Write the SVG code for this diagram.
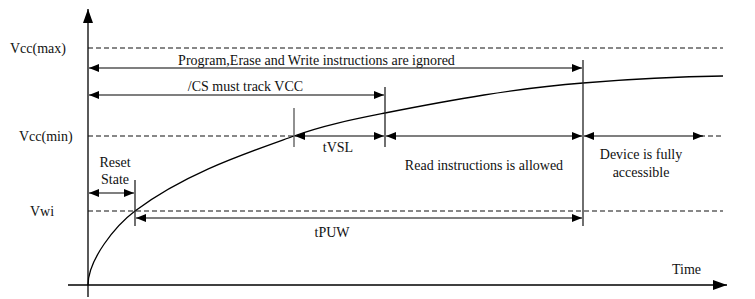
<svg xmlns="http://www.w3.org/2000/svg" width="755" height="299" viewBox="0 0 755 299">
<style>
text{font-family:'Liberation Serif','DejaVu Serif',serif;font-size:14px;fill:#111}
.ax{stroke:#000;stroke-width:1.3;fill:none}
.dash{stroke:#111;stroke-width:1.2;stroke-dasharray:5,3;fill:none}
.arr{stroke:#000;stroke-width:1.2;fill:none;marker-start:url(#ah);marker-end:url(#ah)}
.vl{stroke:#222;stroke-width:1.3;fill:none}
.vg{stroke:#555;stroke-width:1.3;fill:none}
</style>
<defs>
<marker id="ah" viewBox="0 0 10 8" refX="10" refY="4" markerWidth="10" markerHeight="8" markerUnits="userSpaceOnUse" orient="auto-start-reverse">
<path d="M0,0 L10,4 L0,8 Z" fill="#000"/>
</marker>
<marker id="big" viewBox="0 0 14 10" refX="14" refY="5" markerWidth="14" markerHeight="10" markerUnits="userSpaceOnUse" orient="auto">
<path d="M0,0 L14,5 L0,10 Z" fill="#000"/>
</marker>
</defs>
<g id="axes">
<line class="ax" x1="88" y1="297" x2="88" y2="9" marker-end="url(#big)"/>
<line class="ax" x1="68" y1="285" x2="727" y2="285" marker-end="url(#big)"/>
<text x="672" y="274">Time</text>
</g>
<g id="levels">
<line class="dash" x1="88" y1="48" x2="723" y2="48"/>
<line class="dash" x1="88" y1="136" x2="294" y2="136"/>
<line class="dash" x1="700" y1="136" x2="723" y2="136"/>
<line class="dash" x1="88" y1="211" x2="723" y2="211"/>
<text x="10" y="53">Vcc(max)</text>
<text x="19" y="141">Vcc(min)</text>
<text x="30" y="216">Vwi</text>
</g>
<g id="curve">
<path class="ax" d="M88,285 C88,260 115,226 135,211 C185,173.5 244,154 294,136 C324,125 355,119 385,113 C451,100 517,88 583,83 C630,79 680,76.5 723,76"/>
</g>
<g id="markers">
<line class="vl" x1="583" y1="60" x2="583" y2="226"/>
<line class="vl" x1="385" y1="87" x2="385" y2="147"/>
<line class="vg" x1="294" y1="108" x2="294" y2="147"/>
<line class="vl" x1="135" y1="180" x2="135" y2="226"/>
</g>
<g id="connectors">
<line class="arr" x1="89" y1="68" x2="582" y2="68"/>
<line class="arr" x1="89" y1="95" x2="384" y2="95"/>
<line class="arr" x1="295" y1="136" x2="384" y2="136"/>
<line class="arr" x1="386" y1="136" x2="582" y2="136"/>
<line class="arr" x1="584" y1="136" x2="703" y2="136"/>
<line class="arr" x1="89" y1="193" x2="134" y2="193"/>
<line class="arr" x1="136" y1="218" x2="582" y2="218"/>
</g>
<g id="labels">
<text x="316.5" y="65" text-anchor="middle">Program,Erase and Write instructions are ignored</text>
<text x="245.5" y="91" text-anchor="middle">/CS must track VCC</text>
<text x="338" y="152" text-anchor="middle">tVSL</text>
<text x="484" y="170" text-anchor="middle">Read instructions is allowed</text>
<text x="641" y="159" text-anchor="middle">Device is fully</text>
<text x="641" y="177" text-anchor="middle">accessible</text>
<text x="115" y="167" text-anchor="middle">Reset</text>
<text x="115" y="184" text-anchor="middle">State</text>
<text x="332" y="237" text-anchor="middle">tPUW</text>
</g>
</svg>
